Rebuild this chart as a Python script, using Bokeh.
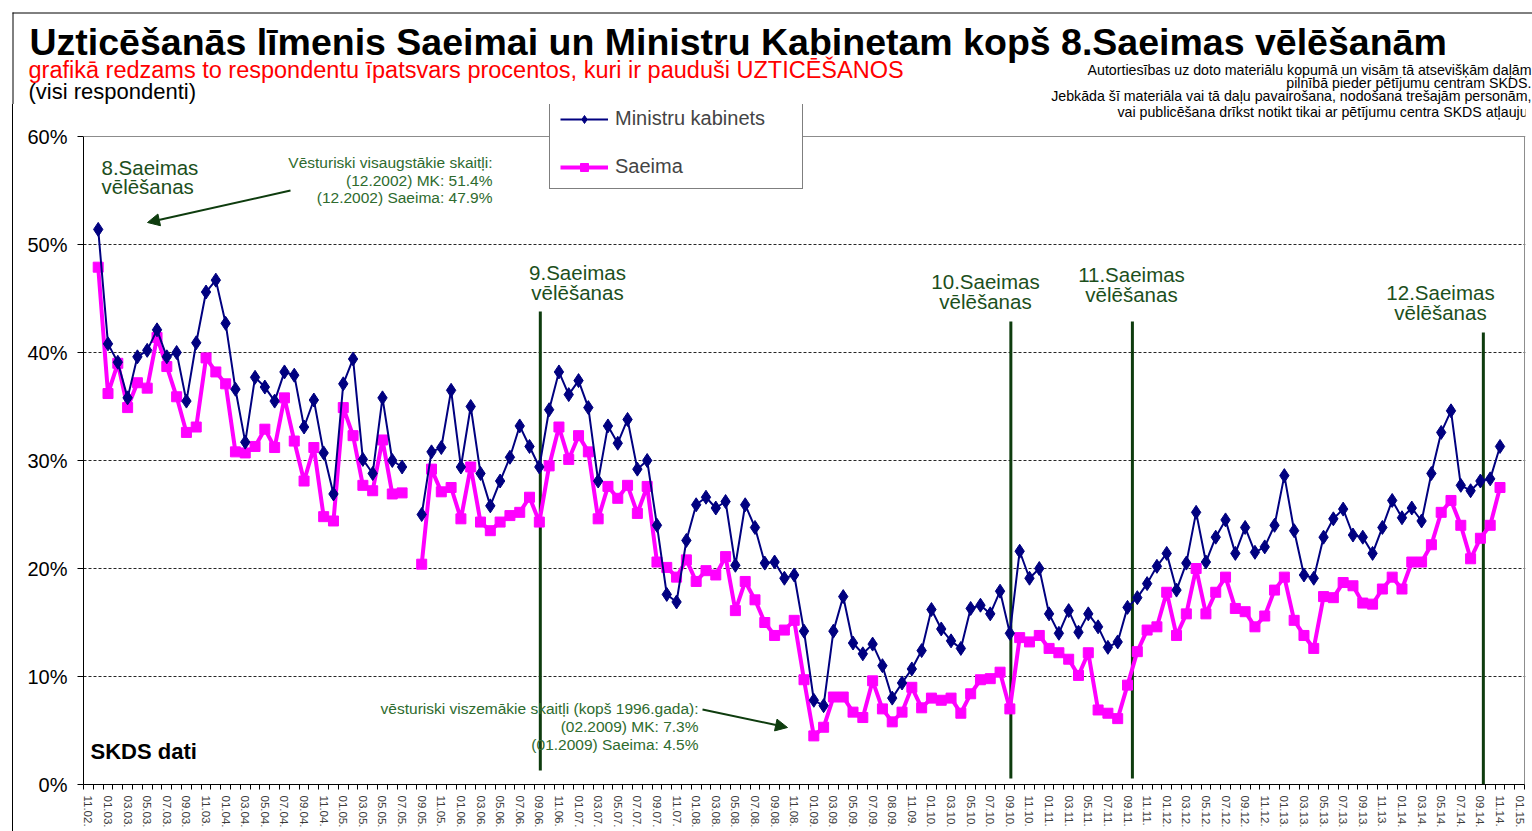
from bokeh.plotting import figure
from bokeh.layouts import column
from bokeh.models import (Range1d, FixedTicker, Label, Arrow, NormalHead, Legend, LegendItem, Span)
from bokeh.embed import file_html
from bokeh.resources import INLINE

# ---------------- data ----------------
tick_labels = [
    "11.02.", "01.03.", "03.03.", "05.03.", "07.03.", "09.03.", "11.03.",
    "01.04.", "03.04.", "05.04.", "07.04.", "09.04.", "11.04.",
    "01.05.", "03.05.", "05.05.", "07.05.", "09.05.", "11.05.",
    "01.06.", "03.06.", "05.06.", "07.06.", "09.06.", "11.06.",
    "01.07.", "03.07.", "05.07.", "07.07.", "09.07.", "11.07.",
    "01.08.", "03.08.", "05.08.", "07.08.", "09.08.", "11.08.",
    "01.09.", "03.09.", "05.09.", "07.09.", "08.09.", "11.09.",
    "01.10.", "03.10.", "05.10.", "07.10.", "09.10.", "11.10.",
    "01.11.", "03.11.", "05.11.", "07.11.", "09.11.", "11.11.",
    "01.12.", "03.12.", "05.12.", "07.12.", "09.12.", "11.12.",
    "01.13.", "03.13.", "05.13.", "07.13.", "09.13.", "11.13.",
    "01.14.", "03.14.", "05.14.", "07.14.", "09.14.", "11.14.",
    "01.15.",
]
n_months = 147  # monthly categories 11.2002 ... 01.2015

ministru_kabinets = [
    None, 51.4, 40.8, 39.1, 35.8, 39.6, 40.2, 42.1, 39.6, 40.0, 35.5, 40.9,
    45.6, 46.7, 42.7, 36.6, 31.7, 37.7, 36.8, 35.5, 38.2, 37.9, 33.1, 35.6,
    30.7, 26.9, 37.1, 39.4, 30.1, 28.8, 35.8, 30.0, 29.4, None, 25.0, 30.8,
    31.2, 36.5, 29.4, 35.0, 28.8, 25.8, 28.1, 30.3, 33.2, 31.3, 29.4, 34.7,
    38.2, 36.1, 37.4, 34.9, 28.1, 33.2, 31.6, 33.8, 29.2, 30.0, 24.0, 17.6,
    16.9, 22.6, 25.9, 26.6, 25.6, 26.2, 20.3, 25.9, 23.8, 20.5, 20.6, 19.1,
    19.4, 14.2, 7.8, 7.3, 14.2, 17.4, 13.1, 12.1, 13.0, 11.0, 8.0, 9.4,
    10.7, 12.4, 16.2, 14.4, 13.3, 12.6, 16.3, 16.6, 15.8, 17.9, 14.0, 21.6,
    19.1, 20.0, 15.8, 14.0, 16.1, 14.1, 15.8, 14.6, 12.7, 13.2, 16.4, 17.3,
    18.6, 20.2, 21.4, 18.0, 20.5, 25.2, 20.6, 22.9, 24.5, 21.4, 23.8, 21.5,
    22.0, 24.0, 28.6, 23.5, 19.4, 19.1, 22.9, 24.6, 25.5, 23.1, 22.9, 21.4,
    23.8, 26.3, 24.7, 25.6, 24.4, 28.8, 32.6, 34.6, 27.7, 27.2, 28.1, 28.3,
    31.3, None, None,
]

saeima = [
    None, 47.9, 36.2, 39.0, 34.9, 37.2, 36.7, 41.4, 38.7, 35.9, 32.6, 33.1,
    39.5, 38.2, 37.1, 30.8, 30.7, 31.3, 32.9, 31.2, 35.8, 31.8, 28.1, 31.2,
    24.8, 24.4, 34.9, 32.3, 27.7, 27.2, 31.9, 26.9, 27.0, None, 20.4, 29.2,
    27.1, 27.5, 24.6, 29.4, 24.3, 23.5, 24.3, 24.9, 25.2, 26.6, 24.3, 29.5,
    33.1, 30.1, 32.3, 30.8, 24.6, 27.6, 26.5, 27.7, 25.1, 27.6, 20.6, 20.1,
    19.2, 20.8, 18.8, 19.8, 19.4, 21.1, 16.1, 18.8, 17.1, 15.0, 13.8, 14.3,
    15.2, 9.7, 4.5, 5.3, 8.1, 8.1, 6.7, 6.2, 9.6, 7.0, 5.8, 6.7,
    9.0, 7.1, 8.0, 7.8, 8.0, 6.6, 8.4, 9.7, 9.8, 10.4, 7.0, 13.6,
    13.2, 13.8, 12.6, 12.2, 11.6, 10.1, 12.2, 6.9, 6.6, 6.1, 9.2, 12.3,
    14.3, 14.6, 17.8, 13.8, 15.8, 20.0, 15.8, 17.8, 19.2, 16.3, 16.0, 14.6,
    15.6, 18.0, 19.2, 15.2, 13.8, 12.6, 17.4, 17.3, 18.7, 18.4, 16.8, 16.7,
    18.1, 19.2, 18.1, 20.6, 20.6, 22.2, 25.2, 26.3, 24.0, 20.9, 22.8, 24.0,
    27.5, None, None,
]

# elections (month index on the category axis)
election_names = ["9.Saeimas", "10.Saeimas", "11.Saeimas", "12.Saeimas"]
election_month = [46.1, 94.1, 106.5, 142.3]

y_ticks = [0, 10, 20, 30, 40, 50, 60]

# ---------------- layout constants (page pixels) ----------------
PAGE_W, PAGE_H = 1532, 831
HEAD_H = 104                 # header strip height
FL, FB = 83, 784             # plot frame left / zero line (page px)
FRAME_W = 1442
X_END = n_months - 0.5 + 0.1
CW = FRAME_W / (X_END + 0.5)
YU = 10.8                    # px per percent
Y_TOP = (FB - HEAD_H) / YU

FONT = "Liberation Sans"
GREEN_LINE = "#0e3c0e"
GREEN_TXT = "#1c4f1c"
GREEN_NOTE = "#2e6b2e"

# ---------------- header figure (pixel coordinates) ----------------
head = figure(width=PAGE_W, height=HEAD_H, output_backend="svg", toolbar_location=None,
              x_range=Range1d(0, PAGE_W), y_range=Range1d(HEAD_H, 0),
              x_axis_type=None, y_axis_type=None,
              min_border_left=0, min_border_right=0, min_border_top=0, min_border_bottom=0)
head.frame_align = False
head.outline_line_color = None
head.background_fill_color = "white"
head.border_fill_color = "white"
head.segment(x0=[12, 12.5], y0=[12.5, 12], x1=[PAGE_W, 12.5], y1=[12.5, HEAD_H],
             line_color="black", line_width=1)


def head_text(x, y, text, size, color="black", align="left", bold=False):
    head.add_layout(Label(x=x, y=y, text=text, text_font=FONT, text_font_size=size,
                          text_color=color, text_align=align, text_baseline="middle",
                          text_font_style="bold" if bold else "normal"))


head_text(29, 41, "Uzticēšanās līmenis Saeimai un Ministru Kabinetam kopš 8.Saeimas vēlēšanām",
          "37.5px", bold=True)
head_text(28, 69, "grafikā redzams  to respondentu īpatsvars procentos, kuri ir pauduši UZTICĒŠANOS",
          "23.5px", color="#ff0000")
head_text(28, 90.5, "(visi respondenti)", "22px")

copyright_lines = [
    "Autortiesības uz doto materiālu kopumā un visām tā atsevišķām daļām",
    "pilnībā pieder pētījumu centram SKDS.",
    "Jebkāda šī materiāla vai tā daļu pavairošana, nodošana trešajām personām,",
    "vai publicēšana drīkst notikt tikai ar pētījumu centra SKDS atļauju.",
]
for k, line in enumerate(copyright_lines[:3]):
    head_text(1531, 69 + 13 * k, line, "14.2px", align="right")

# ---------------- chart figure ----------------
CH_H = PAGE_H - HEAD_H
p = figure(width=PAGE_W, height=CH_H, output_backend="svg", toolbar_location=None,
           x_range=Range1d(-0.5, X_END), y_range=Range1d(0, Y_TOP),
           min_border_left=FL, min_border_right=PAGE_W - FL - FRAME_W,
           min_border_top=0, min_border_bottom=PAGE_H - FB)
p.frame_align = False
p.background_fill_color = "white"
p.border_fill_color = "white"
p.border_fill_alpha = 0
p.outline_line_color = None
p.styles = {"background": "linear-gradient(#000, #000) 12px 0px / 1px 100% no-repeat, #ffffff"}


def dx(rx):
    return (rx - FL) / CW - 0.5


def dy(ry):
    return (FB - ry) / YU


xs = list(range(n_months))
p.xaxis.ticker = FixedTicker(ticks=list(range(0, n_months, 2)),
                             minor_ticks=[i - 0.5 for i in range(n_months + 1)])
p.xaxis.major_label_overrides = {i * 2: lab for i, lab in enumerate(tick_labels)}
p.xaxis.major_label_orientation = "vertical"
p.xaxis.major_label_text_font = FONT
p.xaxis.major_label_text_font_size = "11.5px"
p.xaxis.major_label_text_color = "#3a3a3a"
p.xaxis.major_label_standoff = 6
p.xaxis.major_tick_out = 0
p.xaxis.major_tick_in = 0
p.xaxis.minor_tick_out = 5
p.xaxis.minor_tick_in = 0
p.xaxis.axis_line_color = "black"
p.xaxis.minor_tick_line_color = "black"
p.xaxis.bounds = (-0.5, n_months - 0.5)

p.yaxis.ticker = FixedTicker(ticks=y_ticks)
p.yaxis.major_label_overrides = {t: f"{t}%" for t in y_ticks}
p.yaxis.major_label_text_font = FONT
p.yaxis.major_label_text_font_size = "20px"
p.yaxis.major_label_text_color = "black"
p.yaxis.major_tick_out = 6
p.yaxis.major_tick_in = 0
p.yaxis.minor_tick_line_color = None
p.yaxis.major_label_standoff = 10
p.yaxis.axis_line_color = "black"
p.yaxis.bounds = (0, 60)

p.xgrid.visible = False
p.ygrid.ticker = FixedTicker(ticks=[10, 20, 30, 40, 50])
p.ygrid.grid_line_color = "black"
p.ygrid.grid_line_dash = "3 2"
p.ygrid.grid_line_width = 1
p.ygrid.grid_line_alpha = 0.85

# plot-area border (top and right)
p.add_layout(Span(location=60, dimension="width", line_color="#8c8c8c", line_width=1))
p.segment(x0=[n_months - 0.5], y0=[0], x1=[n_months - 0.5], y1=[60],
          line_color="#8c8c8c", line_width=1)

# election vertical lines
p.segment(x0=election_month, x1=election_month,
          y0=[dy(770), dy(778), dy(778), 0], y1=[dy(311), dy(321), dy(321), dy(332)],
          line_color=GREEN_LINE, line_width=3)

mk_vals = [float("nan") if v is None else v for v in ministru_kabinets]
s_vals = [float("nan") if v is None else v for v in saeima]

s_line = p.line(xs, s_vals, line_color="#ff00ff", line_width=4)
s_pts = p.scatter(xs, s_vals, marker="square", size=10, fill_color="#ff00ff",
                  line_color="#ff00ff")
mk_line = p.line(xs, mk_vals, line_color="#000080", line_width=2)
mk_pts = p.scatter(xs, mk_vals, marker="diamond", size=14, fill_color="#000080",
                   line_color="#000080")

legend = Legend(items=[LegendItem(label="Ministru kabinets", renderers=[mk_line, mk_pts]),
                       LegendItem(label="Saeima", renderers=[s_line, s_pts])],
                location=(549 - FL, FB - 189), margin=0, padding=10, spacing=25,
                glyph_width=48, glyph_height=20, label_height=20, label_width=177,
                label_standoff=7, label_text_font=FONT, label_text_font_size="20px",
                border_line_color="black", border_line_width=1,
                background_fill_color="white", background_fill_alpha=1.0)
p.add_layout(legend)


def add_text(rx, ry, text, size, color="black", align="left", bold=False):
    p.add_layout(Label(x=dx(rx), y=dy(ry), text=text, text_font=FONT,
                       text_font_size=size, text_color=color, text_align=align,
                       text_baseline="middle",
                       text_font_style="bold" if bold else "normal"))


add_text(1531, 111, copyright_lines[3], "14.2px", align="right")

# election labels
add_text(101, 167, "8.Saeimas", "20.5px", color=GREEN_TXT)
add_text(101, 186, "vēlēšanas", "20.5px", color=GREEN_TXT)
label_pos = [(577, 272), (985, 281), (1131, 274), (1440, 292)]
for name, (rx, ry) in zip(election_names, label_pos):
    add_text(rx, ry, name, "20.5px", color=GREEN_TXT, align="center")
    add_text(rx, ry + 20, "vēlēšanas", "20.5px", color=GREEN_TXT, align="center")

# notes
for k, t in enumerate(["Vēsturiski visaugstākie skaitļi:", "(12.2002) MK: 51.4%",
                       "(12.2002) Saeima: 47.9%"]):
    add_text(492, 162 + 17.5 * k, t, "15.5px", color=GREEN_NOTE, align="right")
for k, t in enumerate(["vēsturiski viszemākie skaitļi (kopš 1996.gada):",
                       "(02.2009) MK: 7.3%", "(01.2009) Saeima: 4.5%"]):
    add_text(698, 708 + 18 * k, t, "15.5px", color=GREEN_NOTE, align="right")

add_text(90, 751, "SKDS dati", "22px", bold=True)

for (x0, y0, x1, y1) in [(290, 190, 147, 222), (702, 709, 787, 727)]:
    p.add_layout(Arrow(end=NormalHead(size=12, fill_color=GREEN_LINE, line_color=GREEN_LINE),
                       x_start=dx(x0), y_start=dy(y0), x_end=dx(x1), y_end=dy(y1),
                       line_color=GREEN_LINE, line_width=2))

layout = column(head, p, spacing=0)
open("out.html", "w").write(file_html(layout, INLINE))
